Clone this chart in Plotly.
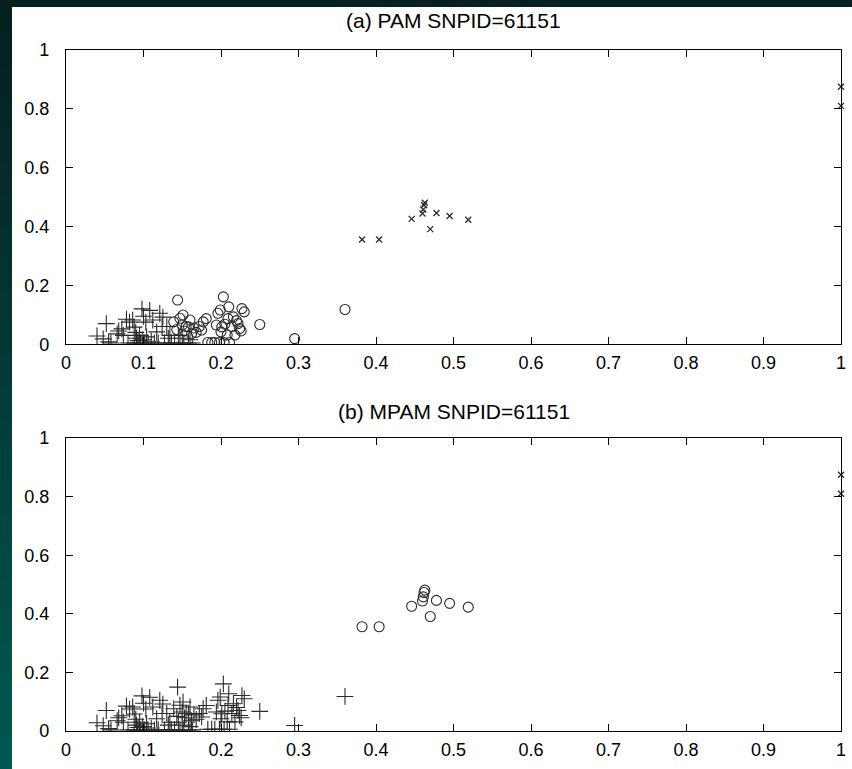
import plotly.graph_objects as go

# ---- data -------------------------------------------------------------
# low-x cluster (label "+" in both panels)
low_x = [0.040, 0.048, 0.052, 0.055, 0.058, 0.066, 0.068, 0.072, 0.074, 0.078,
         0.082, 0.086, 0.088, 0.090, 0.091, 0.093, 0.095, 0.096, 0.098, 0.099,
         0.100, 0.101, 0.103, 0.104, 0.106, 0.108, 0.110, 0.112, 0.114, 0.117,
         0.119, 0.121, 0.124, 0.125, 0.127, 0.130, 0.132, 0.134, 0.136, 0.088,
         0.092, 0.080, 0.140, 0.147, 0.152, 0.158, 0.163, 0.145, 0.150, 0.160]
low_y = [0.028, 0.018, 0.070, 0.008, 0.004, 0.035, 0.045, 0.052, 0.030, 0.085,
         0.075, 0.082, 0.058, 0.040, 0.020, 0.012, 0.030, 0.004, 0.120, 0.015,
         0.095, 0.004, 0.075, 0.025, 0.004, 0.115, 0.010, 0.082, 0.004, 0.042,
         0.004, 0.105, 0.060, 0.092, 0.004, 0.060, 0.020, 0.030, 0.004, 0.004,
         0.004, 0.004, 0.004, 0.004, 0.004, 0.004, 0.004, 0.030, 0.020, 0.015]

# mid cluster (label "o" in PAM, "+" in MPAM)
mid_x = [0.139, 0.143, 0.144, 0.147, 0.150, 0.151, 0.153, 0.155, 0.158, 0.160,
         0.162, 0.165, 0.168, 0.172, 0.175, 0.177, 0.181, 0.183, 0.188, 0.192,
         0.194, 0.196, 0.198, 0.199, 0.200, 0.201, 0.203, 0.204, 0.205, 0.208,
         0.209, 0.210, 0.211, 0.214, 0.216, 0.218, 0.220, 0.222, 0.224, 0.226,
         0.227, 0.230, 0.250, 0.295, 0.360]
mid_y = [0.076, 0.050, 0.150, 0.088, 0.065, 0.099, 0.045, 0.060, 0.059, 0.082,
         0.035, 0.055, 0.040, 0.060, 0.048, 0.076, 0.087, 0.006, 0.006, 0.006,
         0.065, 0.105, 0.006, 0.116, 0.042, 0.059, 0.161, 0.006, 0.068, 0.031,
         0.087, 0.127, 0.006, 0.060, 0.093, 0.031, 0.080, 0.070, 0.053, 0.045,
         0.121, 0.110, 0.067, 0.019, 0.118]

# high cluster (label "x" in PAM, "o" in MPAM)
high_x = [0.382, 0.404, 0.446, 0.460, 0.461, 0.462, 0.463, 0.470, 0.478, 0.495, 0.519]
high_y = [0.356, 0.356, 0.426, 0.444, 0.458, 0.473, 0.481, 0.391, 0.446, 0.436, 0.423]

# points at x = 1 (label "x" in both panels)
edge_x = [1.0, 1.0]
edge_y = [0.875, 0.810]

titles = ["(a) PAM SNPID=61151", "(b) MPAM SNPID=61151"]
x_ticks = [0, 0.1, 0.2, 0.3, 0.4, 0.5, 0.6, 0.7, 0.8, 0.9, 1]
x_labels = ["0", "0.1", "0.2", "0.3", "0.4", "0.5", "0.6", "0.7", "0.8", "0.9", "1"]
y_ticks = [0, 0.2, 0.4, 0.6, 0.8, 1]
y_labels = ["0", "0.2", "0.4", "0.6", "0.8", "1"]

# ---- styling ----------------------------------------------------------
INK = "#2a2a2a"
FONT = "Liberation Sans, Arial, sans-serif"
W, H = 852, 769
ML, MR, MT, MB = 66, 11, 50, 38
TOP_DOMAIN = [0.568, 1.0]
BOT_DOMAIN = [0.0, 0.430]

PLUS = dict(symbol="cross-thin-open", size=12, color=INK, line=dict(width=1.1, color=INK))
CIRC = dict(symbol="circle-open", size=10, color=INK, line=dict(width=1.1, color=INK))
XMRK = dict(symbol="x-thin-open", size=6, color=INK, line=dict(width=1.3, color=INK))

fig = go.Figure()

panels = [
    # (xaxis, yaxis, [(xs, ys, marker, clip), ...])
    ("x", "y", [(low_x, low_y, PLUS, True), (mid_x, mid_y, CIRC, True),
                (high_x, high_y, XMRK, True), (edge_x, edge_y, XMRK, False)]),
    ("x2", "y2", [(low_x, low_y, PLUS, True), (mid_x, mid_y, PLUS, True),
                  (high_x, high_y, CIRC, True), (edge_x, edge_y, XMRK, False)]),
]
for xa, ya, groups in panels:
    for xs, ys, mk, clip in groups:
        fig.add_trace(go.Scatter(x=xs, y=ys, mode="markers", marker=mk,
                                 xaxis=xa, yaxis=ya, showlegend=False,
                                 cliponaxis=clip, hoverinfo="skip"))

axis_common = dict(
    range=[0, 1], showline=True, linecolor="black", linewidth=1.2,
    mirror="ticks", ticks="inside", ticklen=7, tickwidth=1.1,
    tickcolor="black", showgrid=False, zeroline=False, automargin=False,
    tickfont=dict(family=FONT, size=18, color="black"),
)

fig.update_layout(
    width=W, height=H,
    margin=dict(l=ML, r=MR, t=MT, b=MB),
    paper_bgcolor="white", plot_bgcolor="white",
    xaxis=dict(axis_common, domain=[0, 1], anchor="y",
               tickvals=x_ticks, ticktext=x_labels, ticklabelstandoff=2),
    yaxis=dict(axis_common, domain=TOP_DOMAIN, anchor="x",
               tickvals=y_ticks, ticktext=y_labels, ticklabelstandoff=12),
    xaxis2=dict(axis_common, domain=[0, 1], anchor="y2",
                tickvals=x_ticks, ticktext=x_labels, ticklabelstandoff=2),
    yaxis2=dict(axis_common, domain=BOT_DOMAIN, anchor="x2",
                tickvals=y_ticks, ticktext=y_labels, ticklabelstandoff=12),
)

# panel titles
for title, dom, shift in zip(titles, [TOP_DOMAIN, BOT_DOMAIN], [16, 13]):
    fig.add_annotation(text=title, xref="paper", yref="paper",
                       x=0.5, y=dom[1], yshift=shift, xanchor="center",
                       yanchor="bottom", showarrow=False,
                       font=dict(family=FONT, size=21, color="black"))

# dark slide frame along the top and left edges
pw, ph = W - ML - MR, H - MT - MB


def px_x(p):
    return (p - ML) / pw


def px_y(p):
    return (H - MB - p) / ph


fig.add_shape(type="rect", xref="paper", yref="paper", layer="below",
              x0=px_x(0), x1=px_x(W), y0=px_y(7), y1=px_y(0),
              fillcolor="#061f1f", line=dict(width=0))
steps = 24
top_rgb, bot_rgb = (6, 31, 31), (0, 86, 80)
for i in range(steps):
    t = i / (steps - 1)
    r, g, b = (round(top_rgb[k] + (bot_rgb[k] - top_rgb[k]) * t) for k in range(3))
    y0p = i * H / steps
    y1p = (i + 1) * H / steps + 1
    fig.add_shape(type="rect", xref="paper", yref="paper", layer="below",
                  x0=px_x(0), x1=px_x(12), y0=px_y(y1p), y1=px_y(y0p),
                  fillcolor=f"rgb({r},{g},{b})", line=dict(width=0))

fig.write_html("out.html")
